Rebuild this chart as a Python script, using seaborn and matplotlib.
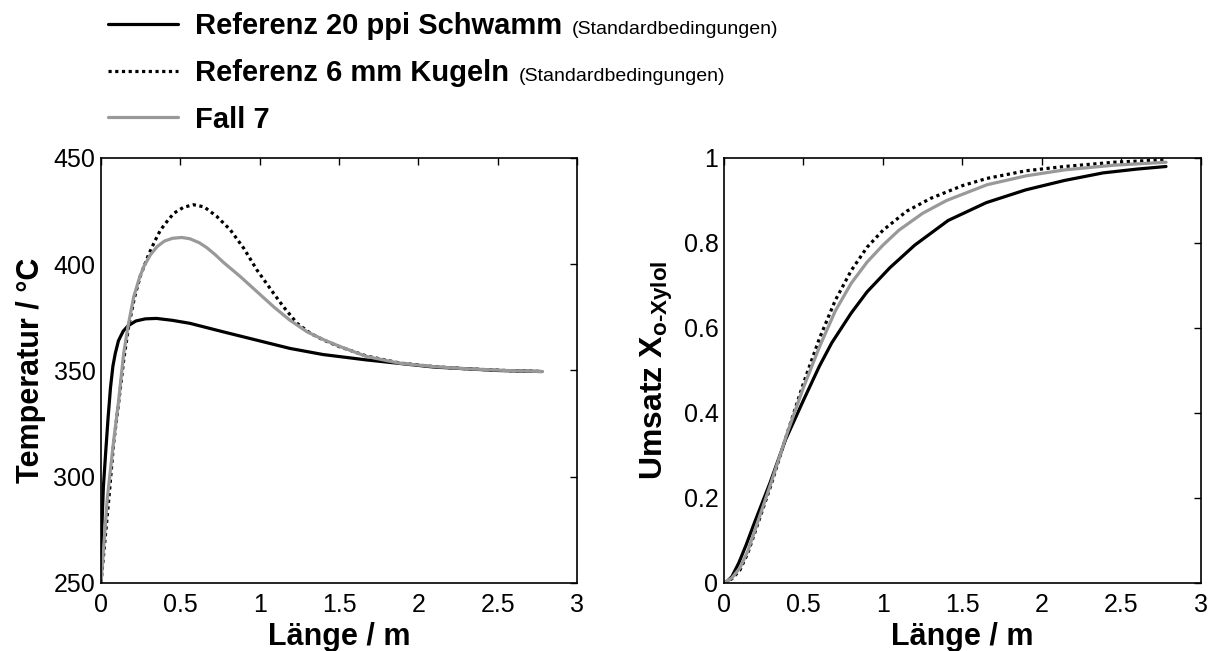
import matplotlib
matplotlib.use("Agg")
import matplotlib.pyplot as plt
import seaborn as sns

# ------------------------------------------------------------
# Werte
# ------------------------------------------------------------
# Temperatur ueber der Laenge
len_t_schwamm = [0, 0.005, 0.015, 0.03, 0.045, 0.06, 0.075, 0.09, 0.11, 0.14, 0.17, 0.22,
                 0.28, 0.35, 0.45, 0.56, 0.77, 0.98, 1.19, 1.4, 1.67, 2.1, 2.5, 2.78]
temp_schwamm = [250, 275, 295, 312, 328, 342, 352, 358, 364, 368.5, 371, 373.3,
                374.3, 374.5, 373.6, 372.2, 368.2, 364.3, 360.4, 357.5, 355.0, 351.6, 350.0, 349.5]

len_t_kugeln = [0, 0.05, 0.08, 0.11, 0.145, 0.175, 0.21, 0.248, 0.3, 0.34, 0.375, 0.42,
                0.459, 0.52, 0.583, 0.65, 0.73, 0.815, 0.9, 0.983, 1.088, 1.15, 1.236,
                1.32, 1.404, 1.5, 1.674, 1.884, 2.1, 2.305, 2.55, 2.78]
temp_kugeln = [250, 290, 316, 334, 356, 371, 384, 394.5, 404.5, 411, 416.1, 420.5,
               424, 426.8, 428, 427, 422.5, 416.2, 407.5, 397.3, 386.3, 380, 372.2,
               367.5, 364.3, 361.3, 356.8, 353.5, 351.8, 350.8, 350.0, 349.5]

len_t_fall7 = [0, 0.04, 0.08, 0.11, 0.143, 0.17, 0.206, 0.24, 0.269, 0.31, 0.354, 0.4,
               0.45, 0.509, 0.56, 0.62, 0.667, 0.72, 0.77, 0.878, 0.98, 1.088, 1.19,
               1.299, 1.4, 1.509, 1.674, 1.884, 2.1, 2.305, 2.55, 2.78]
temp_fall7 = [250, 290, 317, 335, 358, 370.6, 384.6, 393, 398.8, 404.3, 408.3, 410.9,
              412.2, 412.6, 412.0, 410.1, 407.8, 404.5, 401, 394.2, 387.3, 380, 373.7,
              368.2, 364.6, 361.2, 356.6, 353.4, 351.8, 350.8, 350.0, 349.5]

# Umsatz ueber der Laenge
len_x_schwamm = [0, 0.02, 0.05, 0.093, 0.14, 0.191, 0.289, 0.387, 0.5, 0.6, 0.678, 0.8,
                 0.9, 1.044, 1.2, 1.41, 1.65, 1.898, 2.14, 2.385, 2.6, 2.78]
umsatz_schwamm = [0, 0.004, 0.015, 0.047, 0.09, 0.141, 0.235, 0.337, 0.43, 0.51, 0.565, 0.635,
                  0.685, 0.742, 0.795, 0.853, 0.895, 0.925, 0.947, 0.965, 0.974, 0.980]

len_x_kugeln = [0, 0.05, 0.1, 0.15, 0.2, 0.3, 0.4, 0.5, 0.6, 0.7, 0.8, 0.9, 1.0, 1.15,
                1.3, 1.5, 1.654, 1.9, 2.141, 2.45, 2.78]
umsatz_kugeln = [0, 0.01, 0.03, 0.07, 0.125, 0.235, 0.355, 0.47, 0.575, 0.665, 0.735, 0.79,
                 0.83, 0.875, 0.905, 0.935, 0.952, 0.97, 0.98, 0.99, 0.996]

len_x_fall7 = [0, 0.05, 0.1, 0.15, 0.2, 0.3, 0.4, 0.5, 0.6, 0.7, 0.8, 0.9, 1.0, 1.1,
               1.25, 1.4, 1.654, 1.9, 2.141, 2.45, 2.78]
umsatz_fall7 = [0, 0.012, 0.035, 0.075, 0.13, 0.24, 0.355, 0.46, 0.555, 0.64, 0.705, 0.755,
                0.795, 0.83, 0.87, 0.9, 0.937, 0.958, 0.972, 0.983, 0.99]

x_ticks = [0, 0.5, 1, 1.5, 2, 2.5, 3]
x_ticklabels = ["0", "0.5", "1", "1.5", "2", "2.5", "3"]
t_ticks = [250, 300, 350, 400, 450]
t_ticklabels = ["250", "300", "350", "400", "450"]
u_ticks = [0, 0.2, 0.4, 0.6, 0.8, 1]
u_ticklabels = ["0", "0.2", "0.4", "0.6", "0.8", "1"]

labels = ["Referenz 20 ppi Schwamm", "Referenz 6 mm Kugeln", "Fall 7"]
zusatz = "(Standardbedingungen)"

# ------------------------------------------------------------
# Stil
# ------------------------------------------------------------
sns.set_theme(style="white")
plt.rcParams['font.family'] = ['Liberation Sans', 'DejaVu Sans']
plt.rcParams['text.color'] = 'black'
plt.rcParams['axes.labelcolor'] = 'black'
plt.rcParams['xtick.color'] = 'black'
plt.rcParams['ytick.color'] = 'black'
plt.rcParams['mathtext.fontset'] = 'custom'
plt.rcParams['mathtext.rm'] = 'Liberation Sans:bold'
plt.rcParams['mathtext.it'] = 'Liberation Sans:bold'
plt.rcParams['mathtext.bf'] = 'Liberation Sans:bold'

BLACK = "#000000"
GREY = "#999999"
LW = 2.3
styles = [dict(color=BLACK, linestyle="-"),
          dict(color=BLACK, linestyle=(0, (1, 1.1))),
          dict(color=GREY, linestyle="-")]

fig = plt.figure(figsize=(12.08, 6.51), dpi=100)
ax1 = fig.add_axes([0.0836, 0.1045, 0.394, 0.6528])
ax2 = fig.add_axes([0.5993, 0.1045, 0.3949, 0.6528])

temp_data = [(len_t_schwamm, temp_schwamm), (len_t_kugeln, temp_kugeln), (len_t_fall7, temp_fall7)]
umsatz_data = [(len_x_schwamm, umsatz_schwamm), (len_x_kugeln, umsatz_kugeln), (len_x_fall7, umsatz_fall7)]

for (x, y), st, lab in zip(temp_data, styles, labels):
    sns.lineplot(x=x, y=y, ax=ax1, linewidth=LW, label=lab, **st)
for (x, y), st in zip(umsatz_data, styles):
    sns.lineplot(x=x, y=y, ax=ax2, linewidth=LW, **st)

handles = ax1.get_lines()[:3]
ax1.get_legend().remove()

for ax in (ax1, ax2):
    ax.set_xlim(0, 3)
    ax.set_xticks(x_ticks)
    ax.set_xticklabels(x_ticklabels)
    ax.tick_params(direction="in", top=True, right=True, length=5, width=1,
                   labelsize=18, pad=4, colors=BLACK)
    ax.tick_params(axis="x", pad=7)
    for sp in ax.spines.values():
        sp.set_visible(True)
        sp.set_color(BLACK)
        sp.set_linewidth(1.2)
    ax.set_xlabel("Länge / m", fontsize=22, fontweight="bold", labelpad=4)

ax1.set_ylim(250, 450)
ax1.set_yticks(t_ticks)
ax1.set_yticklabels(t_ticklabels)
ax1.set_ylabel("Temperatur / °C", fontsize=22, fontweight="bold", labelpad=5)

ax2.set_ylim(0, 1)
ax2.set_yticks(u_ticks)
ax2.set_yticklabels(u_ticklabels)
ax2.set_ylabel(r"Umsatz X$_{o\text{-}Xylol}$", fontsize=23, fontweight="bold", labelpad=6)

leg = fig.legend(handles, labels, loc="upper left", bbox_to_anchor=(0.0894, 0.981),
                 frameon=False, prop=dict(weight="bold", size=21),
                 handlelength=2.4, handletextpad=0.6, labelspacing=0.64,
                 borderaxespad=0, borderpad=0)

# Zusatz "(Standardbedingungen)" hinter die ersten beiden Eintraege setzen
fig.canvas.draw()
renderer = fig.canvas.get_renderer()
W, H = fig.bbox.width, fig.bbox.height
for t in leg.get_texts()[:2]:
    bb = t.get_window_extent(renderer)
    _, _, d = renderer.get_text_width_height_descent("lp", t.get_fontproperties(), ismath=False)
    fig.text((bb.x1 + 9) / W, (bb.y0 + d) / H, zusatz, fontsize=14, va="baseline", ha="left")

plt.savefig("out.png", dpi=100)
